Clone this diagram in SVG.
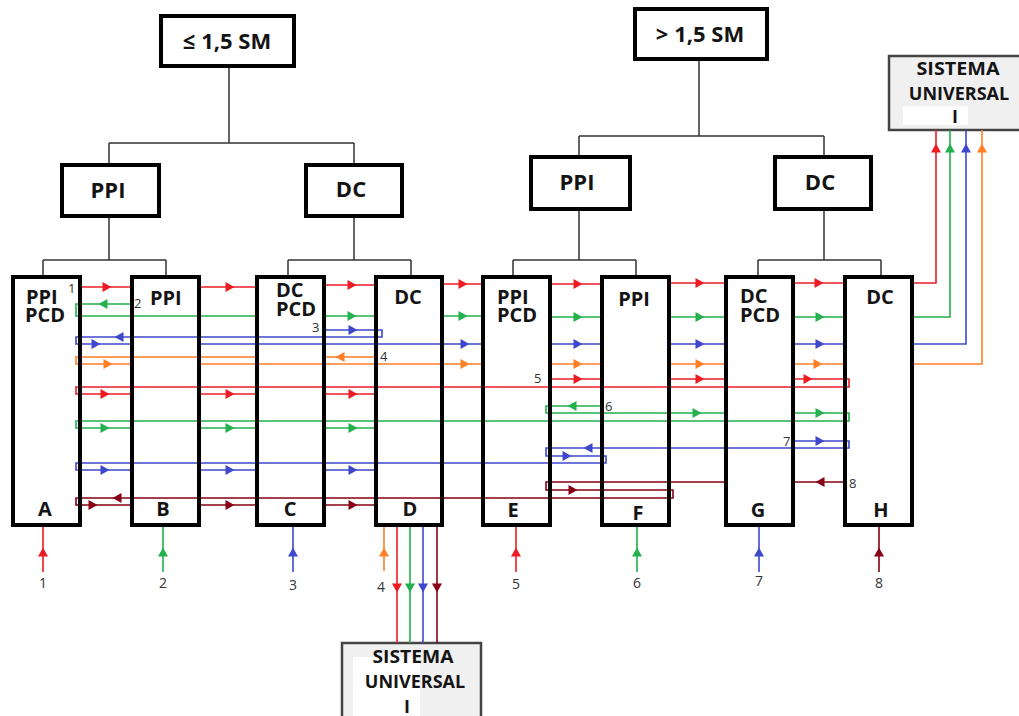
<svg xmlns="http://www.w3.org/2000/svg" xmlns:xlink="http://www.w3.org/1999/xlink" width="1019" height="716" viewBox="0 0 1019 716">
<style>
.bx{fill:none;stroke:#000;stroke-width:4}
.tb{fill:#fff;stroke:#000;stroke-width:4}
.su{fill:#f0f0f0;stroke:#444;stroke-width:2.5}
.tree{fill:none;stroke:#333;stroke-width:1.5}
.t{font-family:"Open Sans","Liberation Sans",sans-serif;font-weight:700;fill:#141414}
.c{font-size:20px}
.big{font-size:22px}
.s{font-family:"Open Sans","Liberation Sans",sans-serif;font-size:13px;fill:#333}
.n{font-family:"Open Sans","Liberation Sans",sans-serif;font-size:14px;fill:#333;text-anchor:middle}
.m{text-anchor:middle}
.ln{fill:none;stroke-width:1.6}
.r{stroke:#ed1c24}.fr{fill:#ed1c24}
.g{stroke:#22b14c}.fg{fill:#22b14c}
.b{stroke:#3f48cc}.fb{fill:#3f48cc}
.o{stroke:#ff7f27}.fo{fill:#ff7f27}
.d{stroke:#880015}.fd{fill:#880015}
</style>
<defs>
<path id="ar" d="M-4.5,-5 L4.5,0 L-4.5,5Z"/>
<path id="al" d="M4.5,-5 L-4.5,0 L4.5,5Z"/>
<path id="au" d="M-5,4.5 L0,-4.5 L5,4.5Z"/>
<path id="ad" d="M-5,-4.5 L0,4.5 L5,-4.5Z"/>
</defs>
<rect x="0" y="0" width="1019" height="716" fill="#fff"/>

<g id="tree-lines" class="tree">
<path d="M229,68 V143 M109,143 H354 M109,143 V163 M354,143 V163 M109,218 V260 M43,260 H166 M43,260 V275 M166,260 V275 M354,218 V260 M288,260 H411 M288,260 V275 M411,260 V275"/>
<path d="M699,61 V136 M579,136 H824 M579,136 V155 M824,136 V155 M579,211 V260 M513,260 H636 M513,260 V275 M636,260 V275 M824,211 V260 M758,260 H881 M758,260 V275 M881,260 V275"/>
</g>

<g id="n-le15">
<rect class="tb" x="161" y="16" width="133" height="50"/>
<text class="t big m" x="227" y="49">≤ 1,5 SM</text>
</g>
<g id="n-gt15">
<rect class="tb" x="635" y="9" width="132" height="50"/>
<text class="t big m" x="700" y="42">&gt; 1,5 SM</text>
</g>
<g id="n-ppi1">
<rect class="tb" x="62" y="165" width="97" height="51"/>
<text class="t big m" x="108" y="198">PPI</text>
</g>
<g id="n-dc1">
<rect class="tb" x="306" y="165" width="96" height="51"/>
<text class="t big m" x="351" y="197">DC</text>
</g>
<g id="n-ppi2">
<rect class="tb" x="531" y="157" width="99" height="52"/>
<text class="t big m" x="577" y="190">PPI</text>
</g>
<g id="n-dc2">
<rect class="tb" x="775" y="157" width="96" height="52"/>
<text class="t big m" x="820" y="190">DC</text>
</g>

<g id="n-su-top">
<rect class="su" x="889" y="56" width="135" height="74"/>
<rect x="903" y="106" width="65" height="19" fill="#fff"/>
<text class="t m" font-size="18" x="958" y="75" textLength="83" lengthAdjust="spacingAndGlyphs">SISTEMA</text>
<text class="t m" font-size="18" x="959" y="100">UNIVERSAL</text>
<text class="t m" font-size="18" x="955" y="123">I</text>
</g>
<g id="n-su-bottom">
<rect class="su" x="342" y="643" width="139" height="80"/>
<rect x="353" y="657" width="67" height="60" fill="#fff"/>
<text class="t m" font-size="18" x="413" y="663" textLength="81" lengthAdjust="spacingAndGlyphs">SISTEMA</text>
<text class="t m" font-size="18" x="415" y="688">UNIVERSAL</text>
<text class="t m" font-size="18" x="407" y="713">I</text>
</g>

<g id="connectors">
<path class="ln r" d="M43,572 V527 M82,287 H130 M201,287 H255 M326,285 H374 M443,284 H481 M552,284 H600 M671,283 H724 M795,283 H843 M914,283 H936 V130"/>
<path class="ln g" d="M163,572 V527 M130,304 H76 V316 H255 M326,316 H374 M443,316 H481 M552,317 H600 M671,317 H724 M795,317 H843 M914,317 H950 V130"/>
<path class="ln b" d="M293,572 V527 M326,330 H382 V337 H76 V344 H130 M201,344 H481 M552,344 H600 M671,344 H724 M795,344 H843 M914,344 H966 V130"/>
<path class="ln o" d="M384,571 V527 M374,357 H326 M255,357 H76 V364 H130 M201,364 H481 M552,364 H600 M671,364 H724 M795,364 H843 M914,364 H982 V130"/>
<path class="ln r" d="M516,572 V527 M552,379 H600 M671,379 H724 M795,379 H849 V387 H76 V394 H130 M201,394 H255 M326,394 H374"/>
<path class="ln g" d="M637,572 V527 M600,406 H546 V413 H724 M795,413 H849 V421 H76 V428 H130 M201,428 H255 M326,428 H374"/>
<path class="ln b" d="M759,572 V527 M795,441 H849 V448 H546 V456 H606 V463 H76 V470 H130 M201,470 H255 M326,470 H374"/>
<path class="ln d" d="M879,572 V527 M843,482 H795 M724,482 H546 V490 H673 V498 H76 V505 H130 M201,505 H255 M326,505 H374"/>
<path class="ln r" d="M397,527 V643"/>
<path class="ln g" d="M410,527 V643"/>
<path class="ln b" d="M423,527 V643"/>
<path class="ln d" d="M437,527 V643"/>

<g class="fr">
<use href="#au" x="43" y="552"/><use href="#au" x="516" y="552"/>
<use href="#ar" x="107" y="287"/><use href="#ar" x="230" y="287"/><use href="#ar" x="352" y="285"/><use href="#ar" x="463" y="284"/><use href="#ar" x="578" y="284"/><use href="#ar" x="700" y="283"/><use href="#ar" x="819" y="283"/>
<use href="#au" x="936" y="148"/>
<use href="#ar" x="578" y="379"/><use href="#ar" x="700" y="379"/><use href="#ar" x="808" y="379"/>
<use href="#ar" x="105" y="394"/><use href="#ar" x="230" y="394"/><use href="#ar" x="353" y="394"/>
<use href="#ad" x="397" y="588"/>
</g>
<g class="fg">
<use href="#au" x="163" y="552"/><use href="#au" x="637" y="552"/>
<use href="#al" x="103" y="304"/><use href="#ar" x="352" y="316"/><use href="#ar" x="463" y="316"/><use href="#ar" x="578" y="317"/><use href="#ar" x="700" y="317"/><use href="#ar" x="820" y="317"/>
<use href="#au" x="950" y="148"/>
<use href="#al" x="572" y="406"/><use href="#ar" x="697" y="413"/><use href="#ar" x="820" y="413"/>
<use href="#ar" x="105" y="428"/><use href="#ar" x="230" y="428"/><use href="#ar" x="353" y="428"/>
<use href="#ad" x="410" y="588"/>
</g>
<g class="fb">
<use href="#au" x="293" y="552"/><use href="#au" x="759" y="552"/>
<use href="#ar" x="353" y="330"/><use href="#al" x="119" y="337"/><use href="#ar" x="96" y="344"/>
<use href="#ar" x="465" y="344"/><use href="#ar" x="578" y="344"/><use href="#ar" x="700" y="344"/><use href="#ar" x="820" y="344"/>
<use href="#au" x="966" y="148"/>
<use href="#ar" x="820" y="441"/><use href="#al" x="588" y="448"/><use href="#ar" x="567" y="456"/>
<use href="#ar" x="105" y="470"/><use href="#ar" x="230" y="470"/><use href="#ar" x="353" y="470"/>
<use href="#ad" x="423" y="588"/>
</g>
<g class="fo">
<use href="#au" x="384" y="552"/>
<use href="#al" x="340" y="357"/><use href="#ar" x="108" y="364"/>
<use href="#ar" x="465" y="364"/><use href="#ar" x="578" y="364"/><use href="#ar" x="700" y="364"/><use href="#ar" x="818" y="364"/>
<use href="#au" x="982" y="148"/>
</g>
<g class="fd">
<use href="#au" x="879" y="552"/>
<use href="#al" x="820" y="482"/><use href="#ar" x="573" y="490"/><use href="#al" x="117" y="498"/>
<use href="#ar" x="93" y="505"/><use href="#ar" x="230" y="505"/><use href="#ar" x="353" y="505"/>
<use href="#ad" x="437" y="588"/>
</g>

<text class="n" x="43" y="588">1</text>
<text class="n" x="163" y="588">2</text>
<text class="n" x="293" y="590">3</text>
<text class="n" x="381" y="592">4</text>
<text class="n" x="516" y="589">5</text>
<text class="n" x="637" y="588">6</text>
<text class="n" x="759" y="586">7</text>
<text class="n" x="879" y="588">8</text>
<text class="s" x="68" y="293">1</text>
<text class="s" x="134" y="308">2</text>
<text class="s" x="312" y="332">3</text>
<text class="s" x="380" y="361">4</text>
<text class="s" x="534" y="383">5</text>
<text class="s" x="605" y="411">6</text>
<text class="s" x="783" y="446">7</text>
<text class="s" x="849" y="488">8</text>
</g>

<g id="n-A">
<rect class="bx" x="13" y="277" width="67" height="248"/>
<text class="t c" x="26" y="304">PPI</text>
<text class="t c" x="25" y="322">PCD</text>
<text class="t c m" x="45" y="516">A</text>
</g>
<g id="n-B">
<rect class="bx" x="132" y="277" width="67" height="248"/>
<text class="t c" x="150" y="305">PPI</text>
<text class="t c m" x="163" y="516">B</text>
</g>
<g id="n-C">
<rect class="bx" x="257" y="277" width="67" height="248"/>
<text class="t c" x="276" y="297">DC</text>
<text class="t c" x="276" y="316">PCD</text>
<text class="t c m" x="290" y="516">C</text>
</g>
<g id="n-D">
<rect class="bx" x="376" y="277" width="66" height="248"/>
<text class="t c m" x="408" y="304">DC</text>
<text class="t c m" x="410" y="516">D</text>
</g>
<g id="n-E">
<rect class="bx" x="483" y="277" width="67" height="248"/>
<text class="t c" x="497" y="304">PPI</text>
<text class="t c" x="497" y="322">PCD</text>
<text class="t c m" x="513" y="517">E</text>
</g>
<g id="n-F">
<rect class="bx" x="602" y="277" width="67" height="248"/>
<text class="t c m" x="634" y="306">PPI</text>
<text class="t c m" x="638" y="520">F</text>
</g>
<g id="n-G">
<rect class="bx" x="726" y="277" width="67" height="248"/>
<text class="t c" x="740" y="303">DC</text>
<text class="t c" x="740" y="322">PCD</text>
<text class="t c m" x="758" y="517">G</text>
</g>
<g id="n-H">
<rect class="bx" x="845" y="277" width="67" height="248"/>
<text class="t c m" x="880" y="304">DC</text>
<text class="t c m" x="881" y="517">H</text>
</g>
</svg>
